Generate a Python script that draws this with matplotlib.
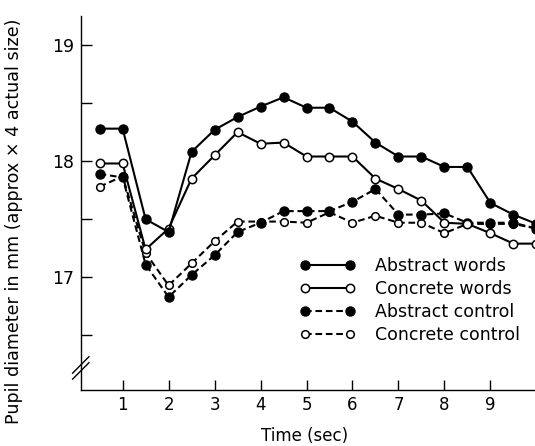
import matplotlib
matplotlib.use("Agg")
import matplotlib.pyplot as plt

# time points (sec)
t = [0.5, 1.0, 1.5, 2.0, 2.5, 3.0, 3.5, 4.0, 4.5, 5.0,
     5.5, 6.0, 6.5, 7.0, 7.5, 8.0, 8.5, 9.0, 9.5, 10.0]

abstract_words = [18.28, 18.28, 17.50, 17.39, 18.08, 18.27, 18.38, 18.47, 18.55, 18.46,
                  18.46, 18.34, 18.16, 18.04, 18.04, 17.95, 17.95, 17.64, 17.54, 17.46]
concrete_words = [17.98, 17.98, 17.24, 17.42, 17.85, 18.05, 18.25, 18.15, 18.16, 18.04,
                  18.04, 18.04, 17.85, 17.76, 17.66, 17.47, 17.46, 17.38, 17.29, 17.29]
abstract_control = [17.89, 17.86, 17.11, 16.83, 17.02, 17.19, 17.39, 17.47, 17.57, 17.57,
                    17.57, 17.65, 17.76, 17.54, 17.54, 17.55, 17.47, 17.47, 17.47, 17.42]
concrete_control = [17.78, 17.87, 17.21, 16.93, 17.12, 17.31, 17.48, 17.48, 17.48, 17.47,
                    17.56, 17.47, 17.53, 17.47, 17.47, 17.38, 17.46, 17.46, 17.46, 17.42]

labels = ["Abstract words", "Concrete words", "Abstract control", "Concrete control"]
xticks = [1, 2, 3, 4, 5, 6, 7, 8, 9]

fig = plt.figure(figsize=(5.35, 4.46), dpi=100)
ax = fig.add_axes([0.151, 0.1256, 0.849, 0.8386])

ms = 6.5
lw = 1.5
dash = (3.2, 1.8)

# dashed series first, solid on top
ax.plot(t, concrete_control, color="black", lw=lw, dashes=dash, marker="o", ms=ms - 1,
        mfc="white", mec="black", mew=1.1, label=labels[3], zorder=3)
ax.plot(t, abstract_control, color="black", lw=lw, dashes=dash, marker="o", ms=ms,
        mfc="black", mec="black", label=labels[2], zorder=4)
ax.plot(t, concrete_words, color="black", lw=lw, marker="o", ms=ms - 0.5,
        mfc="white", mec="black", mew=1.1, label=labels[1], zorder=5)
ax.plot(t, abstract_words, color="black", lw=lw, marker="o", ms=ms,
        mfc="black", mec="black", label=labels[0], zorder=6)

ax.set_xlim(0.09, 9.97)
ax.set_ylim(16.03, 19.25)

ax.spines["top"].set_visible(False)
ax.spines["right"].set_visible(False)
ax.spines["left"].set_linewidth(1.0)
ax.spines["bottom"].set_linewidth(1.0)

ax.set_xticks(xticks)
ax.set_xticklabels([str(x) for x in xticks])
ax.set_yticks([17, 18, 19])
ax.set_yticklabels(["17", "18", "19"])
ax.set_yticks([16.5, 17.5, 18.5], minor=True)
ax.tick_params(axis="both", which="both", direction="in", width=1.0, colors="black")
ax.tick_params(axis="y", which="major", length=8, pad=5, labelsize=12.5)
ax.tick_params(axis="y", which="minor", length=8)
ax.tick_params(axis="x", which="major", length=7, pad=4, labelsize=12)

ax.set_xlabel("Time (sec)", fontsize=12)
ax.xaxis.set_label_coords(0.493, -0.1)
ax.set_ylabel("Pupil diameter in mm (approx \u00d7 4 actual size)", fontsize=12.6)
ax.yaxis.set_label_coords(-0.128, 0.45)

# axis break marks on the y axis
yb = 0.059
for dy in (-0.008, 0.008):
    ax.plot([-0.018, 0.018], [yb + dy - 0.022, yb + dy + 0.022], transform=ax.transAxes,
            color="black", lw=1.0, clip_on=False, zorder=10)

handles, labs = ax.get_legend_handles_labels()
order = [3, 2, 1, 0]
leg = ax.legend([handles[i] for i in order], [labs[i] for i in order],
                loc="center left", bbox_to_anchor=(0.561, 0.326), bbox_transform=fig.transFigure,
                frameon=False, fontsize=12.5, numpoints=2, handlelength=3.2,
                handletextpad=1.1, labelspacing=0.3, borderpad=0, borderaxespad=0)

fig.savefig("out.png", dpi=100)
